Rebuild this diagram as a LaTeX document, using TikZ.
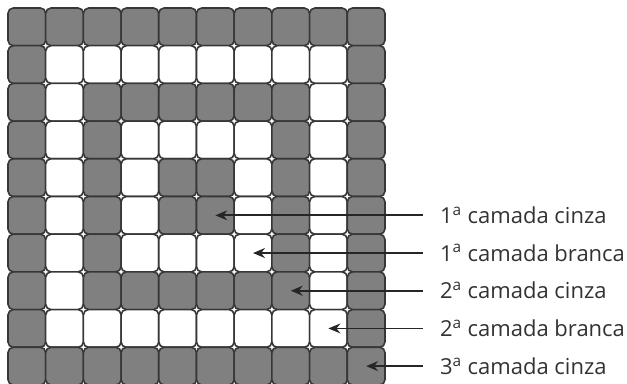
\documentclass[tikz,border=0pt]{standalone}
\usepackage{fontspec}
\setmainfont{Open Sans}
\usepackage{xcolor}
\usepackage{tikz}
\usetikzlibrary{arrows.meta}
\definecolor{cellgray}{RGB}{128,128,128}
\definecolor{edgegray}{RGB}{55,55,55}
\definecolor{txtgray}{RGB}{50,50,50}

\begin{document}
\begin{tikzpicture}[>={Stealth[length=9pt,width=7.5pt]}]
\useasboundingbox (-0.212,0.212) rectangle (16.42,-9.95);
\foreach \r in {0,...,9}
\foreach \c in {0,...,9}{
\pgfmathtruncatemacro\d{min(\r,\c,9-\r,9-\c)}
\pgfmathtruncatemacro\g{mod(\d,2)}
\ifnum\g=0 \def\fc{cellgray}\else \def\fc{white}\fi
\draw[edgegray,line width=1.2pt,rounded corners=4pt,fill=\fc](\c,-\r) rectangle (\c+1,-\r-1);
}
\foreach \r/\txt in {5/1\textsuperscript{a} camada cinza,6/1\textsuperscript{a} camada branca,7/2\textsuperscript{a} camada cinza,8/2\textsuperscript{a} camada branca,9/3\textsuperscript{a} camada cinza}{
\coordinate (c\r) at (\r+0.5,-\r-0.5);
\node[anchor=west,inner xsep=13pt,font=\fontsize{16.6}{19}\selectfont,txtgray] (l\r) at (11.0,-\r-0.5) {\txt};
\draw[->,line width=1.3pt,black!85](l\r.west)--(c\r);
}
\end{tikzpicture}
\end{document}
